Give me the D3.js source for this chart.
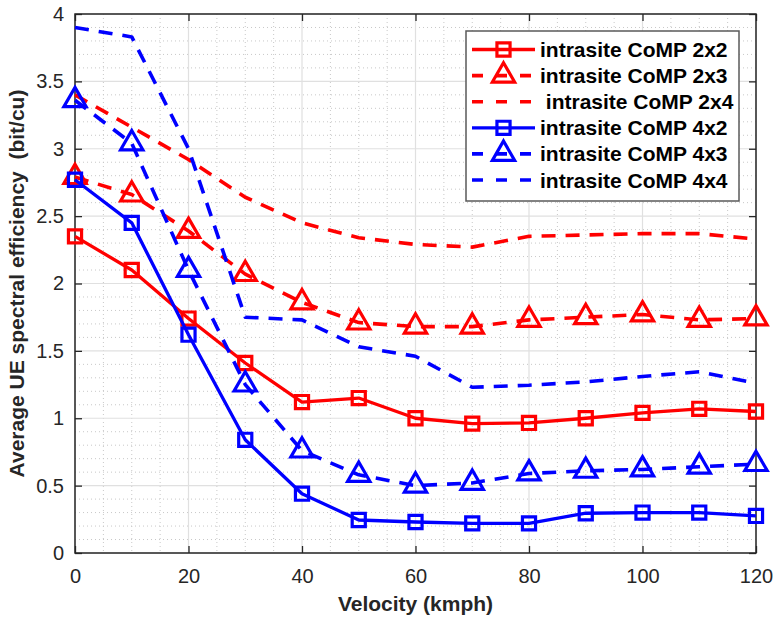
<!DOCTYPE html>
<html>
<head>
<meta charset="utf-8">
<script src="https://cdn.jsdelivr.net/npm/d3@7"></script>
<style>
  body { margin: 0; background: #fff; }
  svg { display: block; font-family: "Liberation Sans", Arial, sans-serif; }
</style>
</head>
<body>
<svg id="chart" width="775" height="620"></svg>
<script>
// velocity (kmph)
var velocity = [0, 10, 20, 30, 40, 50, 60, 70, 80, 90, 100, 110, 120];

// average UE spectral efficiency (bit/cu)
var comp2x2 = [2.35, 2.10, 1.74, 1.41, 1.12, 1.15, 1.00, 0.96, 0.965, 1.00, 1.04, 1.07, 1.05];
var comp2x3 = [2.79, 2.66, 2.39, 2.07, 1.86, 1.71, 1.68, 1.68, 1.73, 1.75, 1.77, 1.73, 1.74];
var comp2x4 = [3.40, 3.16, 2.92, 2.64, 2.45, 2.34, 2.29, 2.27, 2.35, 2.36, 2.37, 2.37, 2.33];
var comp4x2 = [2.77, 2.45, 1.62, 0.84, 0.44, 0.245, 0.23, 0.22, 0.22, 0.295, 0.30, 0.30, 0.275];
var comp4x3 = [3.36, 3.04, 2.10, 1.25, 0.76, 0.58, 0.50, 0.52, 0.59, 0.61, 0.62, 0.64, 0.66];
var comp4x4 = [3.90, 3.83, 3.00, 1.75, 1.73, 1.53, 1.46, 1.23, 1.245, 1.27, 1.31, 1.345, 1.26];

var seriesNames = ["intrasite CoMP 2x2", "intrasite CoMP 2x3", " intrasite CoMP 2x4",
                   "intrasite CoMP 4x2", "intrasite CoMP 4x3", "intrasite CoMP 4x4"];
var seriesValues = [comp2x2, comp2x3, comp2x4, comp4x2, comp4x3, comp4x4];

var xTicks = [0, 20, 40, 60, 80, 100, 120];
var yTicks = [0, 0.5, 1, 1.5, 2, 2.5, 3, 3.5, 4];

var xLabel = "Velocity (kmph)";
var yLabel = "Average UE spectral efficiency  (bit/cu)";

// styles per series
var styles = [
  { color: "#ff0000", dash: null,    marker: "square" },
  { color: "#ff0000", dash: "14,10", marker: "triangle" },
  { color: "#ff0000", dash: "14,10", marker: null },
  { color: "#0000ff", dash: null,    marker: "square" },
  { color: "#0000ff", dash: "14,10", marker: "triangle" },
  { color: "#0000ff", dash: "14,10", marker: null }
];

function drawChart() {
  var svg = d3.select("#chart");
  var pl = 75, pr = 756, pt = 14, pb = 553;

  var x = d3.scaleLinear().domain([0, 120]).range([pl, pr]);
  var y = d3.scaleLinear().domain([0, 4]).range([pb, pt]);

  var g = svg.append("g");

  // minor grid (dotted)
  g.append("g").selectAll("line")
    .data(d3.range(0, 121, 5).filter(function(d) { return d % 20 !== 0; }))
    .enter().append("line")
      .attr("x1", function(d) { return x(d); }).attr("x2", function(d) { return x(d); })
      .attr("y1", pt).attr("y2", pb)
      .attr("stroke", "#c8c8c8").attr("stroke-width", 1).attr("stroke-dasharray", "1,3");
  g.append("g").selectAll("line")
    .data(d3.range(1, 40).filter(function(d) { return d % 5 !== 0; }).map(function(d) { return d / 10; }))
    .enter().append("line")
      .attr("x1", pl).attr("x2", pr)
      .attr("y1", function(d) { return y(d); }).attr("y2", function(d) { return y(d); })
      .attr("stroke", "#c8c8c8").attr("stroke-width", 1).attr("stroke-dasharray", "1,3");

  // major grid
  g.append("g").selectAll("line")
    .data(xTicks)
    .enter().append("line")
      .attr("x1", function(d) { return x(d); }).attr("x2", function(d) { return x(d); })
      .attr("y1", pt).attr("y2", pb)
      .attr("stroke", "#e0e0e0").attr("stroke-width", 1.2);
  g.append("g").selectAll("line")
    .data(yTicks)
    .enter().append("line")
      .attr("x1", pl).attr("x2", pr)
      .attr("y1", function(d) { return y(d); }).attr("y2", function(d) { return y(d); })
      .attr("stroke", "#e0e0e0").attr("stroke-width", 1.2);

  // axes
  function styleAxis(sel) {
    sel.select(".domain").remove();
    sel.selectAll(".tick line").attr("stroke", "#262626").attr("stroke-width", 1.3);
    sel.selectAll(".tick text").attr("fill", "#262626")
      .style("font-size", "20px").style("font-family", "'Liberation Sans', Arial, sans-serif");
  }

  g.append("g").attr("transform", "translate(0," + pb + ")")
    .call(d3.axisBottom(x).tickValues(xTicks).tickSizeInner(-7).tickSizeOuter(0).tickPadding(16))
    .call(styleAxis);
  g.append("g").attr("transform", "translate(" + pl + ",0)")
    .call(d3.axisLeft(y).tickValues(yTicks).tickSizeInner(-7).tickSizeOuter(0).tickPadding(11)
      .tickFormat(d3.format("")))
    .call(styleAxis);
  g.append("g").attr("transform", "translate(0," + pt + ")")
    .call(d3.axisTop(x).tickValues(xTicks).tickSizeInner(-7).tickSizeOuter(0).tickFormat(""))
    .call(styleAxis);
  g.append("g").attr("transform", "translate(" + pr + ",0)")
    .call(d3.axisRight(y).tickValues(yTicks).tickSizeInner(-7).tickSizeOuter(0).tickFormat(""))
    .call(styleAxis);

  // box
  g.append("rect")
    .attr("x", pl).attr("y", pt)
    .attr("width", pr - pl).attr("height", pb - pt)
    .attr("fill", "none").attr("stroke", "#262626").attr("stroke-width", 1.5);

  // axis labels
  svg.append("text")
    .attr("x", (pl + pr) / 2).attr("y", 611)
    .attr("text-anchor", "middle")
    .style("font-size", "21px").style("font-weight", "bold").attr("fill", "#262626")
    .text(xLabel);
  svg.append("text")
    .attr("transform", "translate(24," + (pt + pb) / 2 + ") rotate(-90)")
    .attr("text-anchor", "middle")
    .style("font-size", "21px").style("font-weight", "bold").attr("fill", "#262626")
    .style("white-space", "pre")
    .text(yLabel);

  // series
  var line = d3.line()
    .x(function(d) { return x(d[0]); })
    .y(function(d) { return y(d[1]); });

  var squareSym = d3.symbol().type(d3.symbolSquare).size(172);
  var triSym = d3.symbol().type(d3.symbolTriangle).size(215);

  seriesValues.forEach(function(vals, i) {
    var st = styles[i];
    var pts = velocity.map(function(v, j) { return [v, vals[j]]; });
    var sg = g.append("g");
    sg.append("path")
      .datum(pts)
      .attr("d", line)
      .attr("fill", "none")
      .attr("stroke", st.color)
      .attr("stroke-width", st.dash ? 3.6 : 3.3)
      .attr("stroke-linejoin", "round")
      .attr("stroke-dasharray", st.dash);
    if (st.marker) {
      sg.selectAll(".mk")
        .data(pts)
        .enter().append("path")
          .attr("class", "mk")
          .attr("transform", function(d) { return "translate(" + x(d[0]) + "," + y(d[1]) + ")"; })
          .attr("d", st.marker === "square" ? squareSym : triSym)
          .attr("fill", "none")
          .attr("stroke", st.color)
          .attr("stroke-width", 3.2);
    }
  });

  // legend
  var lg = svg.append("g");
  lg.append("rect")
    .attr("x", 466).attr("y", 31).attr("width", 273).attr("height", 170)
    .attr("fill", "#fff").attr("stroke", "#5a5a5a").attr("stroke-width", 1.5);

  var rows = lg.selectAll(".row")
    .data(seriesNames)
    .enter().append("g")
      .attr("class", "row")
      .attr("transform", function(d, i) { return "translate(0," + (49.5 + i * 26.1) + ")"; });

  rows.append("line")
    .attr("x1", 472).attr("x2", 535)
    .attr("stroke", function(d, i) { return styles[i].color; })
    .attr("stroke-width", function(d, i) { return styles[i].dash ? 3.6 : 3.3; })
    .attr("stroke-dasharray", function(d, i) { return styles[i].dash ? "11,13" : null; });

  rows.filter(function(d, i) { return styles[i].marker; })
    .append("path")
      .attr("transform", "translate(503.5,0)")
      .attr("d", function(d) {
        var i = seriesNames.indexOf(d);
        return styles[i].marker === "square" ? squareSym() : triSym();
      })
      .attr("fill", "none")
      .attr("stroke", function(d) { return styles[seriesNames.indexOf(d)].color; })
      .attr("stroke-width", 3.2);

  rows.append("text")
    .attr("x", 540).attr("dy", "0.36em")
    .style("font-size", "21px").style("font-weight", "bold")
    .style("white-space", "pre")
    .attr("fill", "#000")
    .text(function(d) { return d; });
}

drawChart();
</script>
</body>
</html>
